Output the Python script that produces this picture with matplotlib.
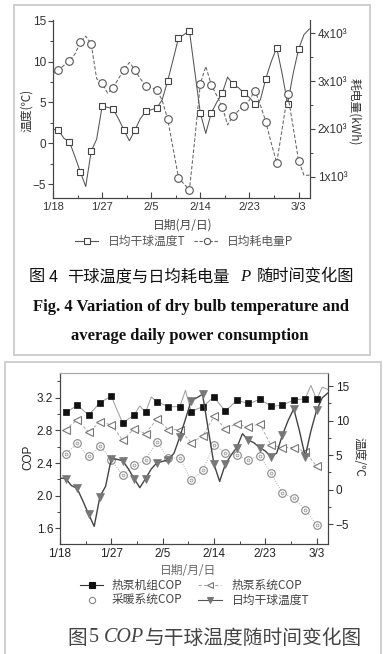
import matplotlib
matplotlib.use('Agg')
import matplotlib.pyplot as plt
from matplotlib.lines import Line2D
from matplotlib.patches import Rectangle
import numpy as np

plt.rcParams['font.family'] = ['Liberation Sans', 'Noto Sans CJK SC', 'DejaVu Sans']
CJK = ['Noto Sans CJK SC', 'DejaVu Sans']

# ---------------- data ----------------
date_ticks = [0, 9, 18, 27, 36, 45]
date_labels = ['1/18', '1/27', '2/5', '2/14', '2/23', '3/3']

days = list(range(48))
temp_T = [1.7, 1.6, 0.6, 0.2, -1.6, -3.5, -5.3, -1.0, 0.5, 4.5,
          4.4, 4.2, 3.0, 1.6, 0.3, 1.6, 3.0, 3.9, 4.1, 4.3,
          5.3, 7.6, 10.2, 12.9, 13.3, 13.8, 8.7, 3.7, 1.2, 3.7,
          5.0, 6.1, 8.1, 7.2, 6.8, 6.1, 5.6, 4.8, 5.3, 7.9,
          10.0, 11.7, 8.5, 4.8, 8.5, 11.5, 13.3, 14.0]
power_P = [3150, 3223, 3330, 3427, 3560, 3810, 3940, 3776, 3050, 2958,
           2750, 2853, 3050, 3237, 3390, 3237, 3050, 2902, 2860, 2818,
           2600, 2210, 1600, 980, 850, 720, 1800, 2944, 3307, 2923,
           2700, 2468, 2084, 2273, 2380, 2482, 2600, 2803, 2500, 2153,
           1700, 1294, 2000, 2734, 2050, 1335, 1030, 1030]

unit_days = list(range(1, 48))
unit_cop = [3.02, 3.06, 3.11, 3.05, 2.99, 3.06, 3.14, 3.18, 3.22, 3.05,
            2.89, 2.94, 2.99, 3.10, 3.02, 3.21, 3.15, 3.12, 3.09, 3.09,
            3.09, 3.29, 3.03, 3.06, 3.09, 3.15, 3.21, 3.12, 3.04, 3.10,
            3.17, 3.15, 3.13, 3.15, 3.18, 3.14, 3.10, 3.10, 3.11, 3.14,
            3.17, 3.18, 3.19, 3.35, 3.18, 3.33, 3.30]

odd_days = list(range(1, 46, 2))
system_cop = [2.81, 2.93, 2.78, 2.90, 2.87, 2.68, 2.82, 2.76, 2.94, 2.81,
              2.81, 2.65, 2.73, 2.97, 2.82, 2.88, 2.84, 2.88, 2.62, 2.59,
              2.59, 2.54, 2.36]
heating_cop = [2.51, 2.64, 2.48, 2.61, 2.44, 2.25, 2.37, 2.44, 2.66, 2.46,
               2.46, 2.19, 2.31, 2.62, 2.52, 2.50, 2.44, 2.49, 2.28, 2.03,
               1.97, 1.83, 1.64]

power_ticks = [1000, 2000, 3000, 4000]
power_labels = ['1x10³', '2x10³', '3x10³', '4x10³']

# ---------------- figure ----------------
W, H = 385, 654
fig = plt.figure(figsize=(W / 100, H / 100), dpi=100)
fig.patch.set_facecolor('white')

def fx(x):
    return x / W

def fy(y):
    return 1 - y / H

def ftext(x, y, s, **kw):
    return fig.text(fx(x), fy(y), s, **kw)

# panel frames
fig.add_artist(Rectangle((fx(14), fy(355)), fx(370) - fx(14), fy(5) - fy(355),
                         transform=fig.transFigure, fill=False, ec='#cccccc', lw=1.3))
fig.add_artist(Rectangle((fx(5), fy(662)), fx(381) - fx(5), fy(362) - fy(662),
                         transform=fig.transFigure, fill=False, ec='#cccccc', lw=1.3))

# ---------------- chart 1 ----------------
ax1 = fig.add_axes([fx(53), fy(198), fx(310) - fx(53), fy(20) - fy(198)])
ax1r = ax1.twinx()
ax1.set_xlim(0, 47.1)
ax1.set_ylim(-6.71, 15.09)
ax1r.set_ylim(554, 4278)

ax1.plot(days, temp_T, color='#555555', lw=0.75, ls='-',
         marker='s', ms=5, mfc='white', mec='#444444', mew=0.8,
         markevery=slice(1, 46, 2), zorder=3)
ax1r.plot(days, power_P, color='#666666', lw=0.75, ls=(0, (3.5, 1.8)),
          marker='o', ms=5.5, mfc='white', mec='#555555', mew=0.8,
          markevery=slice(1, 46, 2), zorder=3)

for a in (ax1, ax1r):
    a.spines['top'].set_visible(False)
    for s in a.spines.values():
        s.set_color('#444444')
        s.set_linewidth(0.8)
ax1.set_xticks(date_ticks)
ax1.set_xticklabels(date_labels)
ax1.set_xticks([4.5, 13.5, 22.5, 31.5, 40.5], minor=True)
ax1.set_yticks([-5, 0, 5, 10, 15])
ax1.set_yticks(np.arange(-5, 15.1, 2.5), minor=True)
ax1r.set_yticks(power_ticks)
ax1r.set_yticklabels(power_labels)
ax1r.set_yticks(np.arange(1000, 4001, 500), minor=True)
ax1.tick_params(axis='x', which='both', direction='in', colors='#444444',
                labelcolor='#333333', labelsize=8, pad=3)
ax1.tick_params(axis='x', which='major', length=4, width=0.8)
ax1.tick_params(axis='x', which='minor', length=2.5, width=0.7)
ax1.tick_params(axis='y', which='both', direction='out', colors='#444444',
                labelcolor='#333333', labelsize=8.5, pad=1.5)
ax1.tick_params(axis='y', which='major', length=3.5, width=0.8)
ax1.tick_params(axis='y', which='minor', length=2, width=0.7)
ax1r.tick_params(axis='y', which='both', direction='out', colors='#444444',
                 labelcolor='#333333', labelsize=8.5, pad=2)
ax1r.tick_params(axis='y', which='major', length=3.5, width=0.8)
ax1r.tick_params(axis='y', which='minor', length=2, width=0.7)

ftext(27, 110, '温度(℃)', rotation=90, ha='center', va='center',
      fontsize=8.5, color='#333333', family=CJK)
ftext(355, 112, '耗电量(kWh)', rotation=270, ha='center', va='center',
      fontsize=8.5, color='#333333', family=CJK)
ftext(183, 225, '日期(月/日)', ha='center', va='center',
      fontsize=8.5, color='#444444', family=CJK)

def legend_sample(x0, x1, y, color, ls, marker, ms, mfc, mec, lw=0.8):
    fig.add_artist(Line2D([fx(x0), fx(x1)], [fy(y), fy(y)],
                          transform=fig.transFigure, color=color, lw=lw, ls=ls))
    fig.add_artist(Line2D([fx((x0 + x1) / 2)], [fy(y)], transform=fig.transFigure,
                          ls='none', marker=marker, ms=ms, mfc=mfc, mec=mec, mew=0.8))

legend_sample(75, 98, 241, '#555555', '-', 's', 4.5, 'white', '#444444')
ftext(108, 241, '日均干球温度T', ha='left', va='center', fontsize=8.5,
      color='#555555', family=CJK)
legend_sample(194, 219, 241, '#666666', (0, (3, 1.5)), 'o', 4.5, 'white', '#555555')
ftext(227, 241, '日均耗电量P', ha='left', va='center', fontsize=8.5,
      color='#555555', family=CJK)

# captions of figure 4
cap_kw = dict(va='center', ha='left', fontsize=11.7, color='#111111', family=CJK)
ftext(29, 277, '图', **cap_kw)
ftext(49, 277, '4', **cap_kw)
ftext(67, 277, '干球温度与日均耗电量', **cap_kw)
ftext(240, 277, 'P', va='center', ha='left', fontsize=12, color='#111111',
      family='Liberation Serif', style='italic')
ftext(257, 277, '随时间变化图', **cap_kw)
ftext(191, 307, 'Fig. 4 Variation of dry bulb temperature and', ha='center', va='center',
      fontsize=12, weight='bold', family='Liberation Serif', color='#111111')
ftext(190, 336, 'average daily power consumption', ha='center', va='center',
      fontsize=12, weight='bold', family='Liberation Serif', color='#111111')

# ---------------- chart 2 ----------------
ax2 = fig.add_axes([fx(60), fy(544.3), fx(328) - fx(60), fy(373) - fy(544.3)])
ax2r = ax2.twinx()
ax2.set_xlim(0, 47)
ax2.set_ylim(1.404, 3.503)
ax2r.set_ylim(-7.89, 16.88)

ax2.plot(odd_days, heating_cop, color='#b0b0b0', lw=0.7, ls=(0, (1, 1.5)),
         marker='o', ms=5.5, mfc='white', mec='#888888', mew=0.8, zorder=3)
ax2.plot(odd_days, heating_cop, ls='none', marker='o', ms=2, mfc='none',
         mec='#999999', mew=0.6, zorder=3)
ax2.plot(odd_days, system_cop, color='#aaaaaa', lw=0.7, ls=(0, (3, 2)),
         marker='<', ms=5.5, mfc='white', mec='#777777', mew=0.8, zorder=3)
ax2.plot(unit_days, unit_cop, color='#9a9a9a', lw=0.7, ls='-',
         marker='s', ms=5, mfc='#111111', mec='#111111', mew=0.5,
         markevery=slice(0, 45, 2), zorder=4)
ax2r.plot(days, temp_T, color='#444444', lw=1.0, ls='-',
          marker='v', ms=6, mfc='#777777', mec='#777777', mew=0.5,
          markevery=slice(1, 46, 2), zorder=3)

for a in (ax2, ax2r):
    for s in a.spines.values():
        s.set_color('#444444')
        s.set_linewidth(0.8)
    a.spines['top'].set_color('#aaaaaa')
ax2.set_xticks(date_ticks)
ax2.set_xticklabels(date_labels)
ax2.set_xticks([4.5, 13.5, 22.5, 31.5, 40.5], minor=True)
ax2.set_yticks([1.6, 2.0, 2.4, 2.8, 3.2])
ax2.set_yticklabels(['1.6', '2.0', '2.4', '2.8', '3.2'])
ax2.set_yticks(np.arange(1.6, 3.41, 0.2), minor=True)
ax2r.set_yticks([-5, 0, 5, 10, 15])
ax2r.set_yticks(np.arange(-5, 15.1, 2.5), minor=True)
ax2.tick_params(axis='x', which='both', direction='in', colors='#444444',
                labelcolor='#222222', labelsize=8.5, pad=3)
ax2.tick_params(axis='x', which='major', length=4, width=0.8)
ax2.tick_params(axis='x', which='minor', length=2.5, width=0.7)
ax2.tick_params(axis='y', which='both', direction='out', colors='#444444',
                labelcolor='#222222', labelsize=8.5, pad=1.5)
ax2.tick_params(axis='y', which='major', length=3.5, width=0.8)
ax2.tick_params(axis='y', which='minor', length=2, width=0.7)
ax2r.tick_params(axis='y', which='both', direction='out', colors='#444444',
                 labelcolor='#222222', labelsize=8.5, pad=2)
ax2r.tick_params(axis='y', which='major', length=3.5, width=0.8)
ax2r.tick_params(axis='y', which='minor', length=2, width=0.7)

ftext(28, 457, 'COP', rotation=90, ha='center', va='center', fontsize=8.5, color='#222222')
ftext(359, 457, '温度/℃', rotation=270, ha='center', va='center',
      fontsize=8.5, color='#333333', family=CJK)
ftext(188, 571, '日期/月/日', ha='center', va='center', fontsize=8.5,
      color='#666666', family=CJK)

legend_sample(80, 103, 585, '#333333', '-', 's', 4.5, '#111111', '#111111')
ftext(112, 585, '热泵机组COP', ha='left', va='center', fontsize=8.5, color='#444444', family=CJK)
legend_sample(198, 221, 585, '#aaaaaa', (0, (3, 2)), '<', 4.5, 'white', '#777777')
ftext(232, 585, '热泵系统COP', ha='left', va='center', fontsize=8.5, color='#444444', family=CJK)
fig.add_artist(Line2D([fx(92)], [fy(600)], transform=fig.transFigure, ls='none',
                      marker='o', ms=4.5, mfc='white', mec='#888888', mew=0.8))
ftext(112, 600, '采暖系统COP', ha='left', va='center', fontsize=8.5, color='#444444', family=CJK)
legend_sample(198, 222, 600, '#555555', '-', 'v', 5, '#777777', '#777777')
ftext(232, 600, '日均干球温度T', ha='left', va='center', fontsize=8.5, color='#444444', family=CJK)

cap2 = dict(va='center', ha='left', fontsize=14.2, color='#444444', family=CJK)
ftext(67, 638, '图', **cap2)
ftext(89, 638, '5', va='center', ha='left', fontsize=14.5, color='#444444',
      family='Liberation Serif')
ftext(104, 638, 'COP', va='center', ha='left', fontsize=14.5, color='#444444',
      family='Liberation Serif', style='italic')
ftext(145, 638, '与干球温度随时间变化图', **cap2)

fig.savefig('out.png', dpi=100, facecolor='white')
